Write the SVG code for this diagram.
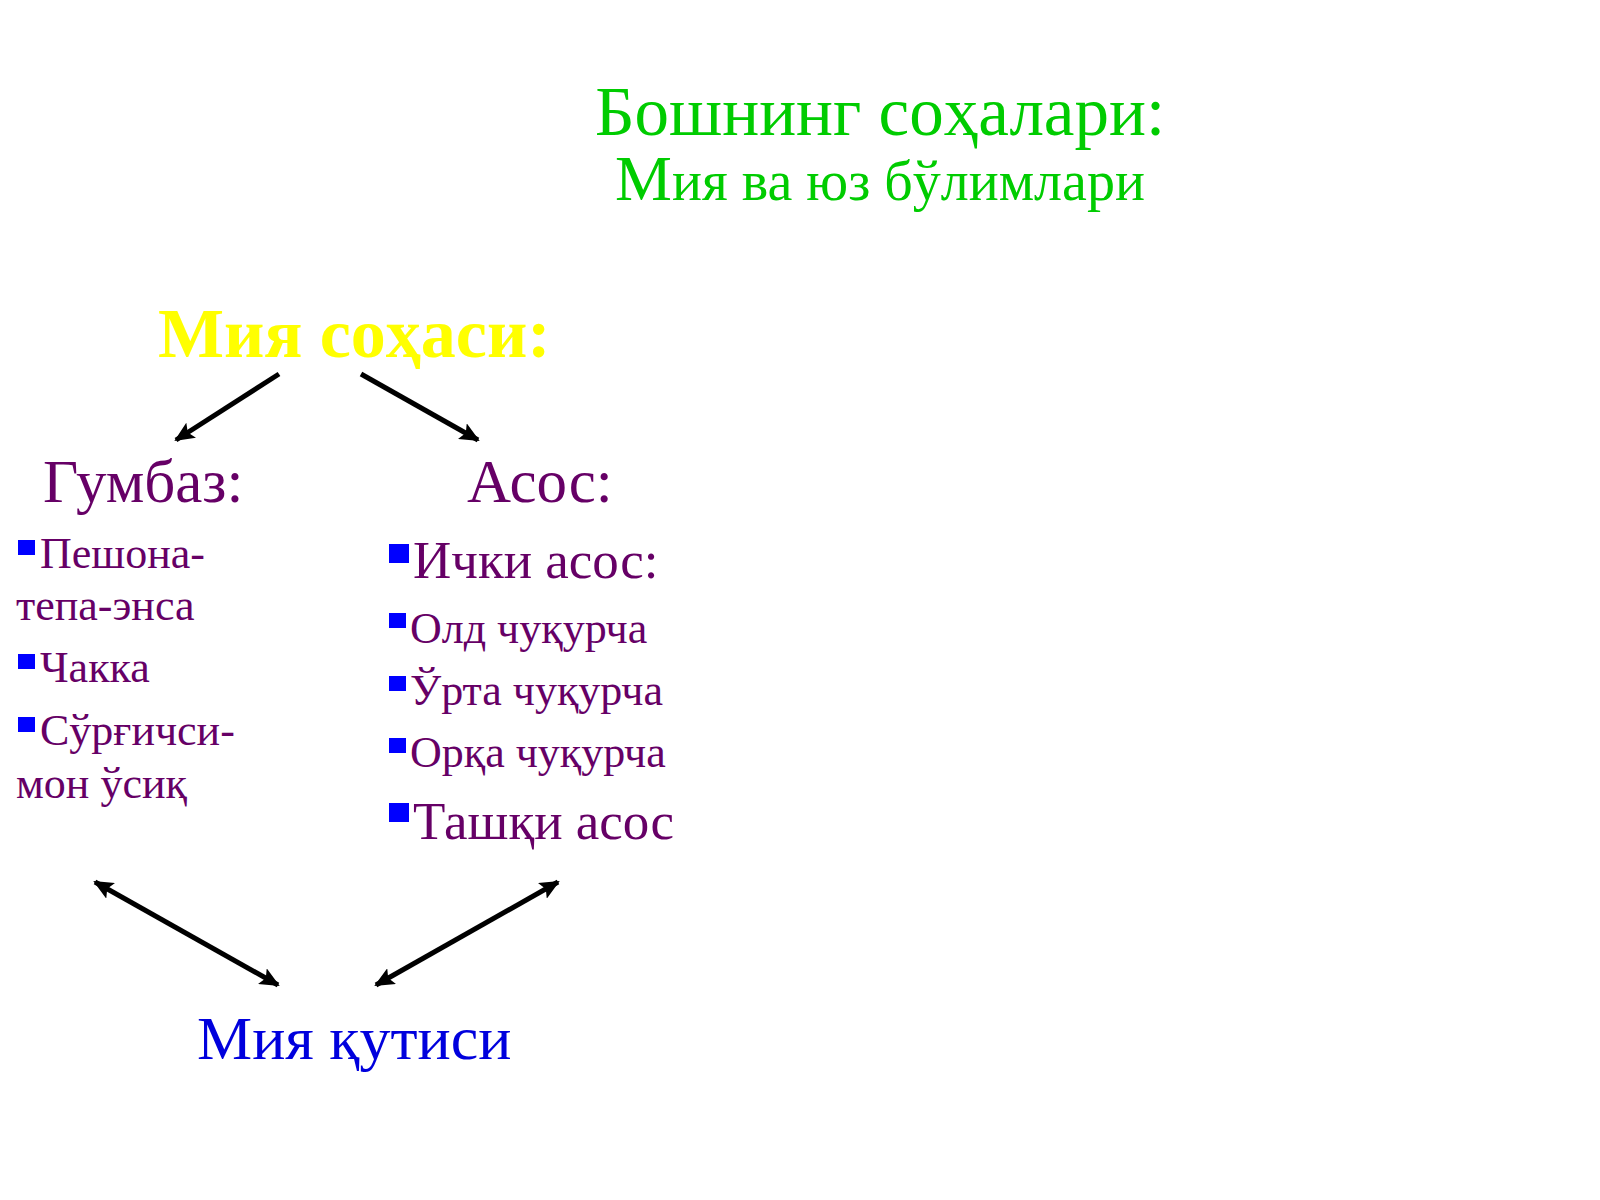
<svg xmlns="http://www.w3.org/2000/svg" width="1600" height="1200" viewBox="0 0 1600 1200">
<defs>
<marker id="ah" markerWidth="20" markerHeight="18" refX="18" refY="9" orient="auto-start-reverse" markerUnits="userSpaceOnUse">
<path d="M0,0 L20,9 L0,18 L4,9 Z" fill="#000"/>
</marker>
</defs>
<style>
text{font-family:"Liberation Serif","Times New Roman",serif}
.title{fill:#00cc00;font-size:69px}
.head{fill:#ffff00;font-size:70px;font-weight:bold}
.sub{fill:#660066;font-size:61px}
.item{fill:#660066;font-size:44px}
.big{fill:#660066;font-size:53px}
.bul{fill:#0000ff}
.box{fill:#0000dd;font-size:62px}
.arr{stroke:#000;stroke-width:5;fill:none}
</style>
<rect width="1600" height="1200" fill="#ffffff"/>
<g id="title">
<text class="title" x="880" y="135" text-anchor="middle">Бошнинг соҳалари:</text>
<text class="title" x="880" y="200" text-anchor="middle" style="font-size:56px"><tspan style="font-size:64px">М</tspan>ия ва юз бўлимлари</text>
</g>
<g id="brain">
<text class="head" x="158" y="357">Мия соҳаси:</text>
</g>
<g id="dome">
<text class="sub" x="43" y="502">Гумбаз:</text>
<rect class="bul" x="18" y="540" width="17" height="15"/>
<text class="item" x="40" y="568">Пешона-</text>
<text class="item" x="16" y="620">тепа-энса</text>
<rect class="bul" x="18" y="654" width="17" height="15"/>
<text class="item" x="40" y="682">Чакка</text>
<rect class="bul" x="18" y="717" width="17" height="15"/>
<text class="item" x="40" y="745">Сўрғичси-</text>
<text class="item" x="16" y="798">мон ўсиқ</text>
</g>
<g id="base">
<text class="sub" x="467" y="502">Асос:</text>
<rect class="bul" x="389" y="544" width="20" height="19"/>
<text class="big" x="413" y="578">Ички асос:</text>
<rect class="bul" x="389" y="613" width="17" height="15"/>
<text class="item" x="410" y="643">Олд чуқурча</text>
<rect class="bul" x="389" y="676" width="17" height="15"/>
<text class="item" x="410" y="705">Ўрта чуқурча</text>
<rect class="bul" x="389" y="738" width="17" height="15"/>
<text class="item" x="410" y="767">Орқа чуқурча</text>
<rect class="bul" x="389" y="803" width="20" height="19"/>
<text class="big" x="413" y="839">Ташқи асос</text>
</g>
<g id="skull">
<text class="box" x="197" y="1059">Мия қутиси</text>
</g>
<g id="connectors">
<line class="arr" x1="279" y1="374" x2="176" y2="440" marker-end="url(#ah)"/>
<line class="arr" x1="361" y1="374" x2="478" y2="440" marker-end="url(#ah)"/>
<line class="arr" x1="95" y1="882" x2="278" y2="985" marker-start="url(#ah)" marker-end="url(#ah)"/>
<line class="arr" x1="558" y1="882" x2="376" y2="985" marker-start="url(#ah)" marker-end="url(#ah)"/>
</g>
</svg>
